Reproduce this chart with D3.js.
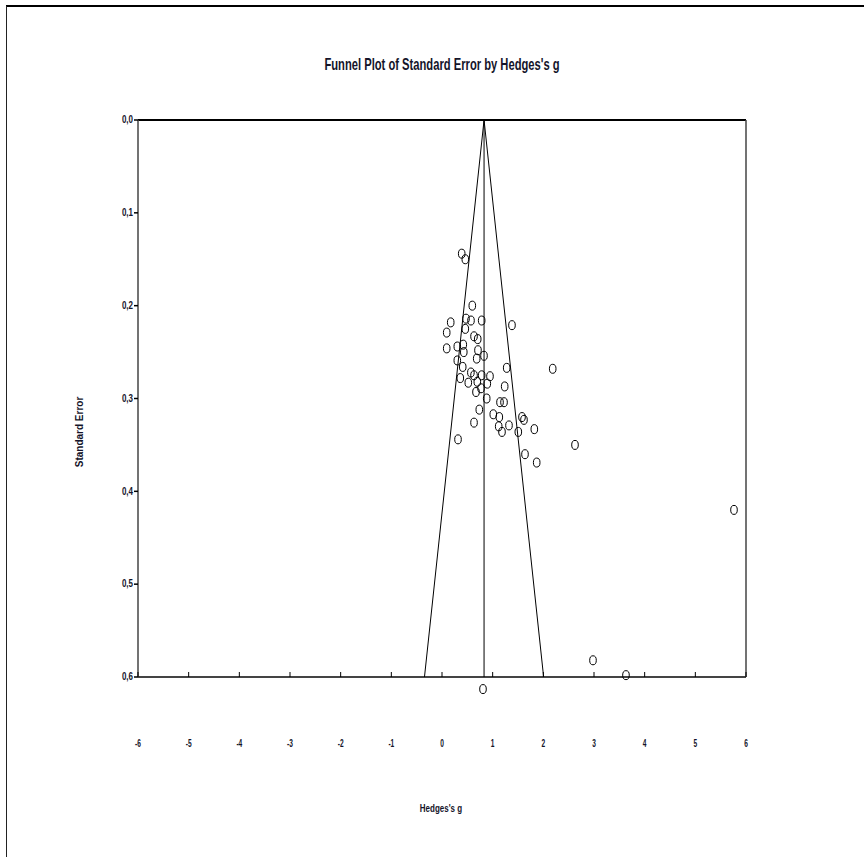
<!DOCTYPE html>
<html>
<head>
<meta charset="utf-8">
<script src="https://cdn.jsdelivr.net/npm/d3@7"></script>
<style>
  html, body { margin: 0; padding: 0; background: #fff; }
  svg { display: block; }
  text { font-family: "Liberation Sans", Arial, sans-serif; font-weight: bold; fill: #14142a; }
</style>
</head>
<body>
<svg id="chart" width="864" height="857"></svg>
<script>
// ---- data ----
const title = "Funnel Plot of Standard Error by Hedges's g";
const xLabel = "Hedges's g";
const yLabel = "Standard Error";
const xTicks = [-6, -5, -4, -3, -2, -1, 0, 1, 2, 3, 4, 5, 6];
const yTicks = [0.0, 0.1, 0.2, 0.3, 0.4, 0.5, 0.6];
const yTickLabels = ["0,0", "0,1", "0,2", "0,3", "0,4", "0,5", "0,6"];
const meanEffect = 0.83;
const seMax = 0.6;
const zCrit = 1.96;
const hedgesG = [0.389, 0.46, 0.598, 0.474, 0.572, 0.783, 0.172, 0.093, 0.46, 0.632,
  0.705, 1.381, 0.093, 0.302, 0.42, 0.71, 0.829, 0.685, 0.302, 0.409,
  1.277, 2.185, 0.361, 0.632, 0.783, 0.947, 0.519, 0.697, 0.894, 0.77,
  0.671, 1.237, 0.882, 1.145, 1.224, 0.736, 1.012, 1.131, 1.119, 1.184,
  1.322, 1.579, 1.618, 1.506, 1.822, 0.632, 0.316, 1.638, 1.869, 2.625,
  5.763, 2.98, 3.631, 0.809, 0.43, 0.57];
const stdErr = [0.144, 0.150, 0.200, 0.214, 0.216, 0.216, 0.218, 0.229, 0.225, 0.233,
  0.236, 0.221, 0.246, 0.244, 0.242, 0.248, 0.254, 0.257, 0.259, 0.266,
  0.267, 0.268, 0.278, 0.275, 0.275, 0.276, 0.283, 0.282, 0.284, 0.289,
  0.293, 0.287, 0.300, 0.304, 0.304, 0.312, 0.317, 0.320, 0.330, 0.336,
  0.329, 0.320, 0.323, 0.336, 0.333, 0.326, 0.344, 0.360, 0.369, 0.350,
  0.420, 0.582, 0.598, 0.613, 0.250, 0.272];

// ---- layout ----
const svg = d3.select("#chart");
const L = 138, R = 746, T = 120, B = 677;
const x = d3.scaleLinear().domain([-6, 6]).range([L, R]);
const y = d3.scaleLinear().domain([0, seMax]).range([T, B]);

function ctext(str, px, py, size, sx, anchor, rotate) {
  const g = svg.append("g")
    .attr("transform", `translate(${px},${py})` + (rotate ? ` rotate(${rotate})` : "") + ` scale(${sx},1)`);
  g.append("text").attr("text-anchor", anchor || "middle")
    .attr("dominant-baseline", "central")
    .style("font-size", size + "px").text(str);
}

// outer frame
svg.append("line").attr("x1", 6).attr("x2", 864).attr("y1", 6).attr("y2", 6)
  .attr("stroke", "#000").attr("stroke-width", 2);
svg.append("line").attr("x1", 6.5).attr("x2", 6.5).attr("y1", 6).attr("y2", 857)
  .attr("stroke", "#222").attr("stroke-width", 1);

// title
ctext(title, 442, 64, 16, 0.7);

// plot box
svg.append("line").attr("x1", L).attr("x2", R).attr("y1", T).attr("y2", T).attr("stroke", "#000").attr("stroke-width", 2);
svg.append("line").attr("x1", L).attr("x2", L).attr("y1", T).attr("y2", B).attr("stroke", "#444").attr("stroke-width", 1.5);
svg.append("line").attr("x1", R).attr("x2", R).attr("y1", T).attr("y2", B).attr("stroke", "#444").attr("stroke-width", 1.5);
svg.append("line").attr("x1", L).attr("x2", R).attr("y1", B).attr("y2", B).attr("stroke", "#444").attr("stroke-width", 2);

// y ticks
yTicks.forEach((v, i) => {
  svg.append("line").attr("x1", L - 4).attr("x2", L).attr("y1", y(v)).attr("y2", y(v))
    .attr("stroke", "#000").attr("stroke-width", 1.5);
  ctext(yTickLabels[i], 133, y(v), 10, 0.8, "end");
});
// x ticks (inside, upward from bottom)
xTicks.forEach(v => {
  svg.append("line").attr("x1", x(v)).attr("x2", x(v)).attr("y1", B).attr("y2", B - 5)
    .attr("stroke", "#000").attr("stroke-width", 1);
  ctext(String(v), x(v), 743, 11, 0.6);
});

// axis titles
ctext(xLabel, 441, 809, 10, 0.8);
ctext(yLabel, 79, 432, 10, 1.0, "middle", -90);

// funnel
const funnel = [[meanEffect - zCrit * seMax, seMax], [meanEffect, 0], [meanEffect + zCrit * seMax, seMax]];
svg.append("path")
  .attr("d", d3.line().x(d => x(d[0])).y(d => y(d[1]))(funnel))
  .attr("fill", "none").attr("stroke", "#000").attr("stroke-width", 1);
svg.append("line").attr("x1", x(meanEffect)).attr("x2", x(meanEffect))
  .attr("y1", y(0)).attr("y2", y(seMax)).attr("stroke", "#000").attr("stroke-width", 1);

// points
svg.append("g").selectAll("ellipse").data(hedgesG.map((g, i) => [g, stdErr[i]]))
  .join("ellipse")
  .attr("cx", d => x(d[0])).attr("cy", d => y(d[1]))
  .attr("rx", 3.3).attr("ry", 4.5)
  .attr("fill", "none").attr("stroke", "#000").attr("stroke-width", 1);
</script>
</body>
</html>
